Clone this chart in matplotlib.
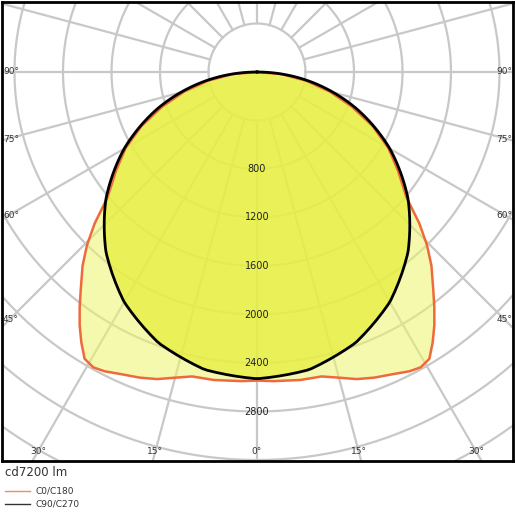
import numpy as np
import matplotlib
matplotlib.use("Agg")
import matplotlib.pyplot as plt

# C0/C180 intensities (cd) vs gamma angle (deg)
c0_angles = [0, 3, 8, 12, 15, 18, 21, 24, 27, 29, 31, 33, 35, 37, 39, 42, 44.5, 47, 50, 55, 60, 65, 70, 75, 80, 85, 90]
c0_values = [2545, 2553, 2565, 2567, 2610, 2663, 2700, 2730, 2770, 2785, 2760, 2660, 2550, 2430, 2310, 2150, 2000, 1830, 1610, 1420, 1250, 1050, 830, 620, 410, 200, 0]
# C90/C270
c90_angles = [0, 10, 20, 30, 40, 50, 60, 70, 80, 90]
c90_values = [2530, 2492, 2377, 2191, 1938, 1626, 1265, 865, 439, 0]
ring_values = [400, 800, 1200, 1600, 2000, 2400, 2800, 3200, 3600, 4000, 4400]
ring_labels = [800, 1200, 1600, 2000, 2400, 2800]
side_labels = ["90°", "75°", "60°", "45°"]
bottom_labels = ["30°", "15°", "0°", "15°", "30°"]

W = 515
fig = plt.figure(figsize=(5.15, 5.15), dpi=100)
s = 400 / 48.5  # cd per px
cx, cy = 257, 72
L, R, T, B = 2, 513, 2, 461
ax = fig.add_axes([L / W, (W - B) / W, (R - L) / W, (B - T) / W])
ax.set_xlim((L - cx) * s, (R - cx) * s)
ax.set_ylim(-(B - cy) * s, (cy - T) * s)
ax.set_aspect('auto')
ax.set_xticks([]); ax.set_yticks([])
for sp in ax.spines.values():
    sp.set_linewidth(2); sp.set_color('black')

gc = '#c8c8c8'
t = np.linspace(0, 2 * np.pi, 400)
for r in ring_values:
    ax.plot(r * np.cos(t), r * np.sin(t), color=gc, lw=1.6, zorder=1)
for a in range(0, 360, 15):
    ar = np.radians(a)
    ax.plot([400 * np.sin(ar), 6000 * np.sin(ar)], [-400 * np.cos(ar), -6000 * np.cos(ar)],
            color=gc, lw=1.6, zorder=1)

def curve(angles, vals):
    a = np.radians(np.array(angles, float))
    v = np.array(vals, float)
    a_full = np.concatenate([-a[::-1], a[1:]])
    v_full = np.concatenate([v[::-1], v[1:]])
    return v_full * np.sin(a_full), -v_full * np.cos(a_full)

x0, y0 = curve(c0_angles, c0_values)
x9, y9 = curve(c90_angles, c90_values)
# smooth C90 as circle-like
ax.fill(x0, y0, color='#eef56a', alpha=0.55, zorder=2, lw=0)
ax.fill(x9, y9, color='#e6ee3c', alpha=0.75, zorder=3, lw=0)
ax.plot(x0, y0, color='#ef6a3a', lw=1.8, zorder=4)
aa = np.radians(np.linspace(-90, 90, 200))
vv = np.interp(np.degrees(np.abs(aa)), c90_angles, c90_values)
ax.plot(vv * np.sin(aa), -vv * np.cos(aa), color='black', lw=2, zorder=5)

for v in ring_labels:
    ax.text(0, -v, str(v), ha='center', va='center', fontsize=7, color='#222222', zorder=6)

def ft(px, py, txt, ha, size=6.5, color='#333333'):
    fig.text(px / W, 1 - py / W, txt, ha=ha, va='center', fontsize=size, color=color)

for lab, yy in zip(side_labels, [72, 139, 216, 320]):
    ft(3, yy, lab, 'left')
    ft(512, yy, lab, 'right')
for lab, xx in zip(bottom_labels, [38, 155, 257, 359, 476]):
    ft(xx, 452, lab, 'center')

ft(5, 472, "cd7200 lm", 'left', size=8.5, color='#333333')
fig.add_artist(plt.Line2D([5 / W, 30 / W], [1 - 491 / W] * 2, color='#ef8a6a', lw=1))
fig.add_artist(plt.Line2D([5 / W, 30 / W], [1 - 504 / W] * 2, color='#333333', lw=1))
ft(36, 491, "C0/C180", 'left')
ft(36, 504, "C90/C270", 'left')

fig.savefig("out.png", dpi=100)
